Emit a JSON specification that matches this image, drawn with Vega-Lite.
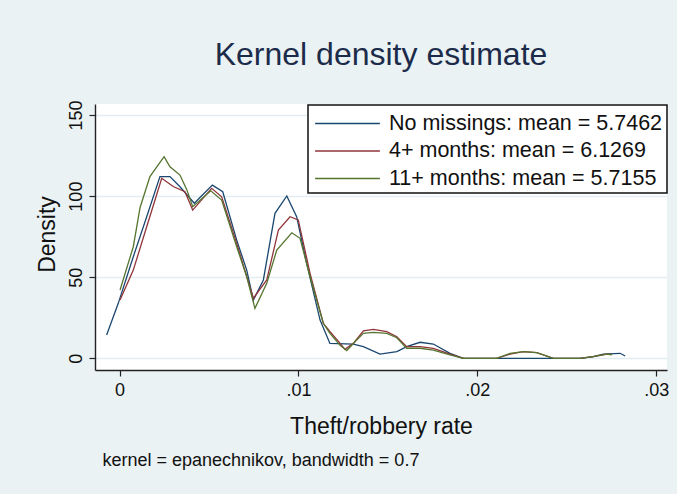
{
  "$schema": "https://vega.github.io/schema/vega-lite/v6.json",
  "width": 572,
  "height": 266,
  "autosize": {"type": "none"},
  "padding": {"left": 95, "top": 104, "right": 10, "bottom": 124},
  "background": "#eaf2f3",
  "title": {
    "text": "Kernel density estimate",
    "font": "Liberation Sans",
    "fontSize": 32,
    "fontWeight": "normal",
    "color": "#1c2b4a",
    "anchor": "middle",
    "frame": "group",
    "baseline": "alphabetic",
    "offset": 3
  },
  "data": {
    "values": [
      {"series": "No missings: mean = 5.7462", "x": -0.00072, "y": 14.4},
      {"series": "No missings: mean = 5.7462", "x": -0.00007, "y": 33.9},
      {"series": "No missings: mean = 5.7462", "x": 0.00077, "y": 62.6},
      {"series": "No missings: mean = 5.7462", "x": 0.00152, "y": 87.3},
      {"series": "No missings: mean = 5.7462", "x": 0.00226, "y": 112.0},
      {"series": "No missings: mean = 5.7462", "x": 0.00282, "y": 112.0},
      {"series": "No missings: mean = 5.7462", "x": 0.00338, "y": 105.8},
      {"series": "No missings: mean = 5.7462", "x": 0.00418, "y": 95.6},
      {"series": "No missings: mean = 5.7462", "x": 0.00519, "y": 106.8},
      {"series": "No missings: mean = 5.7462", "x": 0.00577, "y": 102.7},
      {"series": "No missings: mean = 5.7462", "x": 0.00655, "y": 72.9},
      {"series": "No missings: mean = 5.7462", "x": 0.00711, "y": 54.4},
      {"series": "No missings: mean = 5.7462", "x": 0.00748, "y": 35.9},
      {"series": "No missings: mean = 5.7462", "x": 0.00804, "y": 48.3},
      {"series": "No missings: mean = 5.7462", "x": 0.00869, "y": 89.4},
      {"series": "No missings: mean = 5.7462", "x": 0.00935, "y": 100.1},
      {"series": "No missings: mean = 5.7462", "x": 0.0099, "y": 87.3},
      {"series": "No missings: mean = 5.7462", "x": 0.01046, "y": 58.6},
      {"series": "No missings: mean = 5.7462", "x": 0.01121, "y": 23.6},
      {"series": "No missings: mean = 5.7462", "x": 0.01176, "y": 9.2},
      {"series": "No missings: mean = 5.7462", "x": 0.01307, "y": 8.8},
      {"series": "No missings: mean = 5.7462", "x": 0.01363, "y": 7.2},
      {"series": "No missings: mean = 5.7462", "x": 0.01456, "y": 2.6},
      {"series": "No missings: mean = 5.7462", "x": 0.0155, "y": 4.1},
      {"series": "No missings: mean = 5.7462", "x": 0.01605, "y": 7.2},
      {"series": "No missings: mean = 5.7462", "x": 0.0168, "y": 9.9},
      {"series": "No missings: mean = 5.7462", "x": 0.01754, "y": 8.8},
      {"series": "No missings: mean = 5.7462", "x": 0.01847, "y": 3.1},
      {"series": "No missings: mean = 5.7462", "x": 0.01922, "y": 0},
      {"series": "No missings: mean = 5.7462", "x": 0.02574, "y": 0},
      {"series": "No missings: mean = 5.7462", "x": 0.02648, "y": 1.0},
      {"series": "No missings: mean = 5.7462", "x": 0.02704, "y": 2.6},
      {"series": "No missings: mean = 5.7462", "x": 0.02798, "y": 3.1},
      {"series": "No missings: mean = 5.7462", "x": 0.02826, "y": 1.4},
      {"series": "4+ months: mean = 6.1269", "x": 0.00003, "y": 35.9},
      {"series": "4+ months: mean = 6.1269", "x": 0.00077, "y": 54.4},
      {"series": "4+ months: mean = 6.1269", "x": 0.00152, "y": 81.1},
      {"series": "4+ months: mean = 6.1269", "x": 0.00236, "y": 111.0},
      {"series": "4+ months: mean = 6.1269", "x": 0.003, "y": 105.9},
      {"series": "4+ months: mean = 6.1269", "x": 0.00366, "y": 102.7},
      {"series": "4+ months: mean = 6.1269", "x": 0.00409, "y": 91.4},
      {"series": "4+ months: mean = 6.1269", "x": 0.00515, "y": 104.8},
      {"series": "4+ months: mean = 6.1269", "x": 0.00571, "y": 99.6},
      {"series": "4+ months: mean = 6.1269", "x": 0.00655, "y": 70.9},
      {"series": "4+ months: mean = 6.1269", "x": 0.00748, "y": 37.0},
      {"series": "4+ months: mean = 6.1269", "x": 0.00823, "y": 48.3},
      {"series": "4+ months: mean = 6.1269", "x": 0.00888, "y": 79.1},
      {"series": "4+ months: mean = 6.1269", "x": 0.00953, "y": 87.3},
      {"series": "4+ months: mean = 6.1269", "x": 0.00999, "y": 85.3},
      {"series": "4+ months: mean = 6.1269", "x": 0.01065, "y": 52.4},
      {"series": "4+ months: mean = 6.1269", "x": 0.01139, "y": 21.6},
      {"series": "4+ months: mean = 6.1269", "x": 0.01177, "y": 16.4},
      {"series": "4+ months: mean = 6.1269", "x": 0.01233, "y": 9.2},
      {"series": "4+ months: mean = 6.1269", "x": 0.0126, "y": 5.5},
      {"series": "4+ months: mean = 6.1269", "x": 0.01307, "y": 9.2},
      {"series": "4+ months: mean = 6.1269", "x": 0.01363, "y": 17.0},
      {"series": "4+ months: mean = 6.1269", "x": 0.01419, "y": 17.9},
      {"series": "4+ months: mean = 6.1269", "x": 0.01494, "y": 16.4},
      {"series": "4+ months: mean = 6.1269", "x": 0.0155, "y": 13.3},
      {"series": "4+ months: mean = 6.1269", "x": 0.01605, "y": 7.2},
      {"series": "4+ months: mean = 6.1269", "x": 0.0168, "y": 7.2},
      {"series": "4+ months: mean = 6.1269", "x": 0.01754, "y": 6.2},
      {"series": "4+ months: mean = 6.1269", "x": 0.01847, "y": 2.6},
      {"series": "4+ months: mean = 6.1269", "x": 0.01922, "y": 0},
      {"series": "4+ months: mean = 6.1269", "x": 0.02108, "y": 0},
      {"series": "4+ months: mean = 6.1269", "x": 0.02183, "y": 2.6},
      {"series": "4+ months: mean = 6.1269", "x": 0.02257, "y": 4.1},
      {"series": "4+ months: mean = 6.1269", "x": 0.02332, "y": 3.5},
      {"series": "4+ months: mean = 6.1269", "x": 0.02425, "y": 0},
      {"series": "4+ months: mean = 6.1269", "x": 0.02574, "y": 0},
      {"series": "4+ months: mean = 6.1269", "x": 0.02648, "y": 1.0},
      {"series": "4+ months: mean = 6.1269", "x": 0.02723, "y": 2.6},
      {"series": "4+ months: mean = 6.1269", "x": 0.02751, "y": 2.4},
      {"series": "11+ months: mean = 5.7155", "x": 0.00003, "y": 42.1},
      {"series": "11+ months: mean = 5.7155", "x": 0.00077, "y": 68.8},
      {"series": "11+ months: mean = 5.7155", "x": 0.00115, "y": 93.0},
      {"series": "11+ months: mean = 5.7155", "x": 0.0017, "y": 112.0},
      {"series": "11+ months: mean = 5.7155", "x": 0.00249, "y": 124.3},
      {"series": "11+ months: mean = 5.7155", "x": 0.00282, "y": 118.1},
      {"series": "11+ months: mean = 5.7155", "x": 0.00338, "y": 113.0},
      {"series": "11+ months: mean = 5.7155", "x": 0.00376, "y": 104.0},
      {"series": "11+ months: mean = 5.7155", "x": 0.00409, "y": 93.5},
      {"series": "11+ months: mean = 5.7155", "x": 0.0051, "y": 103.3},
      {"series": "11+ months: mean = 5.7155", "x": 0.00571, "y": 97.6},
      {"series": "11+ months: mean = 5.7155", "x": 0.00655, "y": 68.8},
      {"series": "11+ months: mean = 5.7155", "x": 0.00711, "y": 50.3},
      {"series": "11+ months: mean = 5.7155", "x": 0.00757, "y": 30.8},
      {"series": "11+ months: mean = 5.7155", "x": 0.00823, "y": 46.2},
      {"series": "11+ months: mean = 5.7155", "x": 0.00879, "y": 66.8},
      {"series": "11+ months: mean = 5.7155", "x": 0.00963, "y": 77.4},
      {"series": "11+ months: mean = 5.7155", "x": 0.01009, "y": 74.0},
      {"series": "11+ months: mean = 5.7155", "x": 0.01065, "y": 50.3},
      {"series": "11+ months: mean = 5.7155", "x": 0.01139, "y": 21.6},
      {"series": "11+ months: mean = 5.7155", "x": 0.01176, "y": 15.4},
      {"series": "11+ months: mean = 5.7155", "x": 0.01233, "y": 8.0},
      {"series": "11+ months: mean = 5.7155", "x": 0.0127, "y": 4.8},
      {"series": "11+ months: mean = 5.7155", "x": 0.01316, "y": 10.2},
      {"series": "11+ months: mean = 5.7155", "x": 0.01363, "y": 15.4},
      {"series": "11+ months: mean = 5.7155", "x": 0.01419, "y": 16.0},
      {"series": "11+ months: mean = 5.7155", "x": 0.01494, "y": 15.4},
      {"series": "11+ months: mean = 5.7155", "x": 0.0155, "y": 12.7},
      {"series": "11+ months: mean = 5.7155", "x": 0.01605, "y": 6.2},
      {"series": "11+ months: mean = 5.7155", "x": 0.0168, "y": 6.2},
      {"series": "11+ months: mean = 5.7155", "x": 0.01754, "y": 5.1},
      {"series": "11+ months: mean = 5.7155", "x": 0.01847, "y": 2.1},
      {"series": "11+ months: mean = 5.7155", "x": 0.01922, "y": 0},
      {"series": "11+ months: mean = 5.7155", "x": 0.02108, "y": 0},
      {"series": "11+ months: mean = 5.7155", "x": 0.02183, "y": 3.1},
      {"series": "11+ months: mean = 5.7155", "x": 0.02257, "y": 4.1},
      {"series": "11+ months: mean = 5.7155", "x": 0.02332, "y": 3.5},
      {"series": "11+ months: mean = 5.7155", "x": 0.02425, "y": 0},
      {"series": "11+ months: mean = 5.7155", "x": 0.02574, "y": 0},
      {"series": "11+ months: mean = 5.7155", "x": 0.02648, "y": 1.0},
      {"series": "11+ months: mean = 5.7155", "x": 0.02723, "y": 2.6},
      {"series": "11+ months: mean = 5.7155", "x": 0.02751, "y": 2.2}
    ]
  },
  "resolve": {"axis": {"x": "independent"}},
  "layer": [
    {
      "mark": {"type": "line", "strokeWidth": 1.3, "interpolate": "linear"},
      "encoding": {
        "x": {
          "field": "x",
          "type": "quantitative",
          "scale": {"domain": [-0.00137, 0.0306], "nice": false, "zero": false},
          "axis": {
            "orient": "bottom",
            "title": "Theft/robbery rate",
            "values": [0, 0.01, 0.02, 0.03],
            "labelExpr": "datum.value == 0 ? '0' : replace(format(datum.value, '.2f'), '0.', '.')",
            "grid": false,
            "domainColor": "#222222",
            "domainWidth": 1.4,
            "tickColor": "#222222",
            "tickWidth": 1.2,
            "tickSize": 6,
            "labelFont": "Liberation Sans",
            "labelFontSize": 18,
            "labelColor": "#111111",
            "labelPadding": 5,
            "labelFlush": false,
            "titleFont": "Liberation Sans",
            "titleFontSize": 23,
            "titleFontWeight": "normal",
            "titleColor": "#111111",
            "titleBaseline": "alphabetic",
            "titleY": 63
          }
        },
        "y": {
          "field": "y",
          "type": "quantitative",
          "scale": {"domain": [-7.2, 156.8], "nice": false, "zero": false},
          "axis": {
            "title": "Density",
            "values": [0, 50, 100, 150],
            "grid": true,
            "gridColor": "#e4edf0",
            "gridWidth": 1.5,
            "domainColor": "#222222",
            "domainWidth": 1.4,
            "tickColor": "#222222",
            "tickWidth": 1.2,
            "tickSize": 6,
            "labelAngle": 270,
            "labelAlign": "center",
            "labelBaseline": "alphabetic",
            "labelPadding": 8,
            "labelFont": "Liberation Sans",
            "labelFontSize": 18,
            "labelColor": "#111111",
            "labelFlush": false,
            "titleFont": "Liberation Sans",
            "titleFontSize": 23,
            "titleFontWeight": "normal",
            "titleColor": "#111111",
            "titleAngle": 270,
            "titleAlign": "center",
            "titleBaseline": "alphabetic",
            "titleX": -41,
            "titleY": 130
          }
        },
        "color": {
          "field": "series",
          "type": "nominal",
          "scale": {
            "domain": ["No missings: mean = 5.7462", "4+ months: mean = 6.1269", "11+ months: mean = 5.7155"],
            "range": ["#1a476f", "#90353b", "#55752f"]
          },
          "legend": {
            "title": null,
            "orient": "none",
            "legendX": 213,
            "legendY": 1,
            "direction": "vertical",
            "padding": 4,
            "fillColor": "white",
            "strokeColor": "#111111",
            "symbolType": "M-2.4,0H2.4",
            "symbolSize": 729,
            "symbolStrokeWidth": 1.5,
            "symbolOffset": 21,
            "labelOffset": 27,
            "rowPadding": 2.5,
            "labelFont": "Liberation Sans",
            "labelFontSize": 21.5,
            "labelColor": "#111111",
            "labelLimit": 0
          }
        }
      }
    },
    {
      "mark": {"type": "rule", "opacity": 0},
      "encoding": {
        "x": {
          "datum": 0,
          "type": "quantitative",
          "axis": {
            "orient": "bottom",
            "title": "kernel = epanechnikov, bandwidth = 0.7",
            "labels": false,
            "ticks": false,
            "domain": false,
            "grid": false,
            "titleFont": "Liberation Sans",
            "titleFontSize": 18,
            "titleFontWeight": "normal",
            "titleColor": "#111111",
            "titleAlign": "left",
            "titleBaseline": "alphabetic",
            "titleX": 7,
            "titleY": 95
          }
        }
      }
    }
  ],
  "config": {
    "view": {"fill": "white", "stroke": null},
    "legend": {"strokeWidth": 1.5}
  }
}
